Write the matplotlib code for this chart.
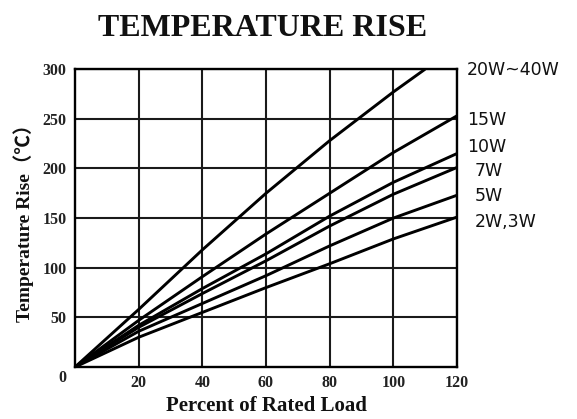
import matplotlib

matplotlib.use("Agg")
import matplotlib.pyplot as plt  # noqa: E402

# Load points (percent of rated load)
LOAD = [0, 20, 40, 60, 80, 100, 120]
LOAD_BIG = [0, 20, 40, 60, 80, 100, 110]

# Temperature rise (deg C) per resistor rating
RISE_20_40W = [0, 58, 118, 175, 228, 277, 300]
RISE_15W = [0, 47, 91, 134, 175, 216, 253]
RISE_10W = [0, 42, 79, 114, 152, 186, 215]
RISE_7W = [0, 40, 74, 107, 142, 174, 201]
RISE_5W = [0, 36, 64, 92, 122, 150, 173]
RISE_2_3W = [0, 30, 55, 80, 104, 129, 151]

LABELS = ["20W~40W", "15W", "10W", "7W", "5W", "2W,3W"]
LABEL_Y = [299, 249, 222, 197, 172, 146]
LABEL_X = [1.026, 1.026, 1.026, 1.047, 1.047, 1.047]

X_TICKS = [20, 40, 60, 80, 100, 120]
Y_TICKS = [50, 100, 150, 200, 250, 300]

SERIF = ["Liberation Serif", "DejaVu Serif"]

fig = plt.figure(figsize=(5.77, 4.19), dpi=100)
ax = fig.add_axes((0.130, 0.124, 0.662, 0.711))

series = [
    (LOAD_BIG, RISE_20_40W),
    (LOAD, RISE_15W),
    (LOAD, RISE_10W),
    (LOAD, RISE_7W),
    (LOAD, RISE_5W),
    (LOAD, RISE_2_3W),
]
for xs, ys in series:
    ax.plot(xs, ys, color="black", linewidth=2.1, solid_capstyle="butt", zorder=3)

ax.set_xlim(0, 120)
ax.set_ylim(0, 300)
ax.set_xticks(X_TICKS)
ax.set_yticks(Y_TICKS)
ax.grid(True, color="#1a1a1a", linewidth=1.5)
for spine in ax.spines.values():
    spine.set_linewidth(1.7)
ax.tick_params(length=0, pad=6)
for lbl in ax.get_xticklabels() + ax.get_yticklabels():
    lbl.set_fontfamily(SERIF)
    lbl.set_fontweight("bold")
    lbl.set_fontsize(11.5)
    lbl.set_color("#222222")

# shared origin label at the lower left corner
ax.annotate("0", xy=(0, 0), xycoords="data", xytext=(-9, -8),
            textcoords="offset points", ha="center", va="center",
            fontfamily=SERIF, fontweight="bold", fontsize=11.5, color="#222222")

for text, x, y in zip(LABELS, LABEL_X, LABEL_Y):
    ax.text(x, y, text, transform=ax.get_yaxis_transform(),
            ha="left", va="center", fontsize=12.5, fontfamily="DejaVu Sans",
            color="#111111", clip_on=False)

fig.text(0.455, 0.933, "TEMPERATURE RISE", ha="center", va="center",
         fontfamily=SERIF, fontweight="bold", fontsize=23, color="#111111")
ax.set_xlabel("Percent of Rated Load", fontfamily=SERIF, fontweight="bold",
              fontsize=15, color="#111111", labelpad=3)
ax.set_ylabel("Temperature Rise（℃）",
              fontfamily=["Liberation Serif", "Noto Sans CJK SC", "DejaVu Serif"],
              fontweight="bold", fontsize=14, color="#111111", labelpad=6)

fig.savefig("out.png", dpi=100)
